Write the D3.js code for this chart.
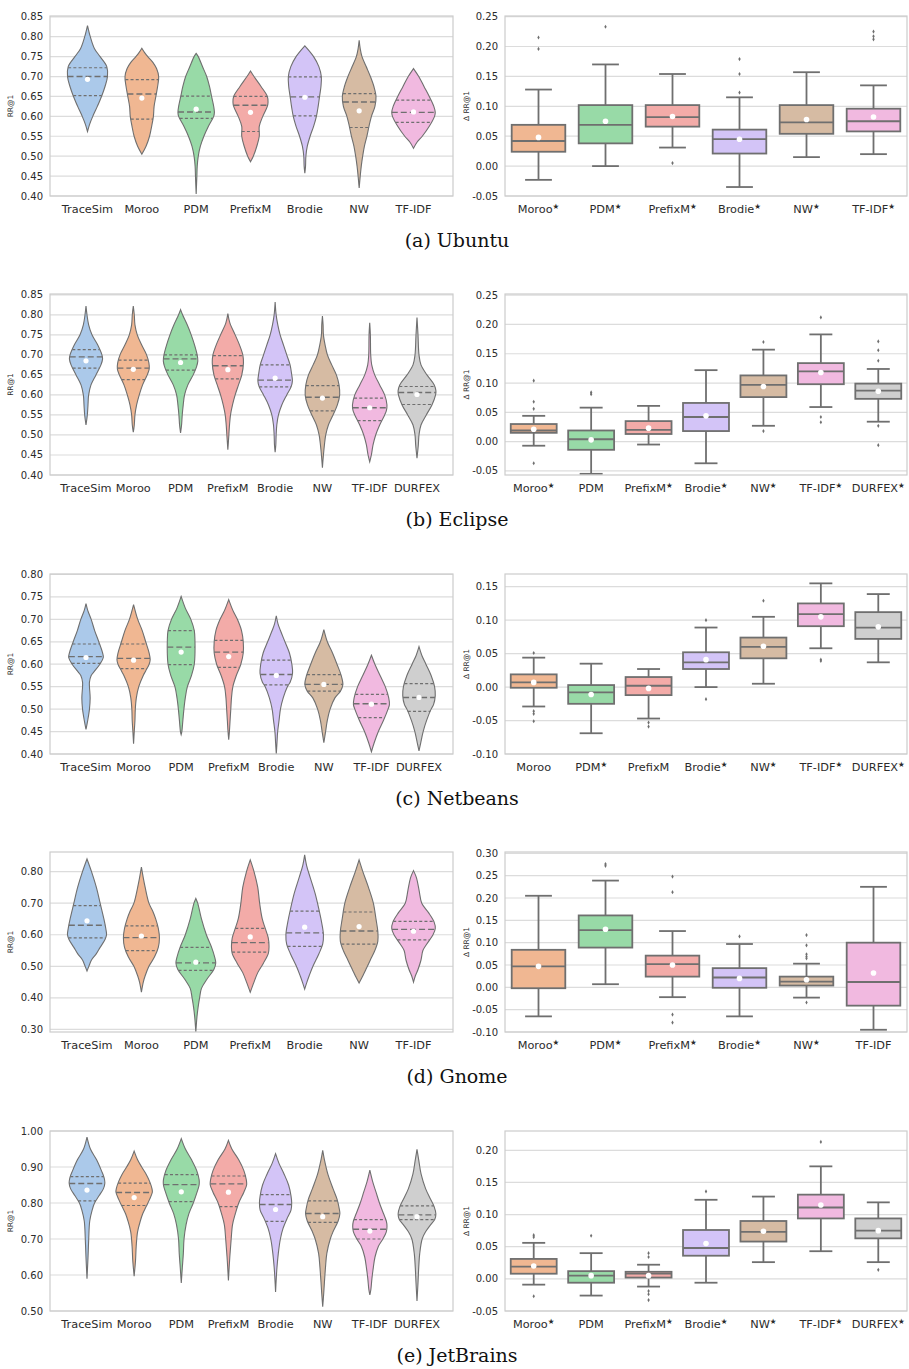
<!DOCTYPE html>
<html>
<head>
<meta charset="utf-8">
<script src="https://cdn.jsdelivr.net/npm/d3@7"></script>
<style>
  body { margin: 0; background: #fff; }
  svg { display: block; }
</style>
</head>
<body>
<div id="app"></div>
<script>
// ---- data ----
// violins: p = [value, relative density] from top tip to bottom tip, q = [q1, median, q3]
const ubuntuRR = [
  {m: "TraceSim", q: [0.652, 0.700, 0.722], mean: 0.693, p: [[0.828,0],[0.80,8],[0.77,20],[0.75,36],[0.725,55],[0.70,57],[0.675,50],[0.65,40],[0.625,28],[0.60,15],[0.58,6],[0.562,0]]},
  {m: "Moroo", q: [0.593, 0.656, 0.692], mean: 0.646, p: [[0.771,0],[0.76,8],[0.75,17],[0.735,32],[0.72,42],[0.70,48],[0.675,45],[0.65,40],[0.625,35],[0.60,33],[0.575,28],[0.55,22],[0.525,12],[0.505,0]]},
  {m: "PDM", q: [0.595, 0.611, 0.651], mean: 0.618, p: [[0.758,0],[0.75,6],[0.725,18],[0.70,30],[0.675,38],[0.65,44],[0.625,50],[0.61,52],[0.60,50],[0.575,35],[0.55,22],[0.525,12],[0.50,6],[0.475,3],[0.45,2],[0.405,0]]},
  {m: "PrefixM", q: [0.562, 0.628, 0.650], mean: 0.610, p: [[0.714,0],[0.70,10],[0.675,30],[0.65,48],[0.635,50],[0.625,48],[0.60,35],[0.575,25],[0.55,25],[0.525,18],[0.50,8],[0.486,0]]},
  {m: "Brodie", q: [0.601, 0.649, 0.699], mean: 0.648, p: [[0.777,0],[0.75,25],[0.725,40],[0.70,47],[0.675,46],[0.65,42],[0.625,38],[0.60,33],[0.575,25],[0.55,15],[0.525,7],[0.50,3],[0.475,2],[0.457,0]]},
  {m: "NW", q: [0.572, 0.636, 0.657], mean: 0.614, p: [[0.791,0],[0.77,3],[0.75,8],[0.725,20],[0.70,32],[0.675,42],[0.65,48],[0.625,45],[0.60,35],[0.575,28],[0.55,22],[0.525,15],[0.50,10],[0.475,6],[0.45,3],[0.42,0]]},
  {m: "TF-IDF", q: [0.585, 0.610, 0.641], mean: 0.611, p: [[0.72,0],[0.70,15],[0.675,30],[0.65,45],[0.625,58],[0.61,62],[0.60,60],[0.575,45],[0.55,25],[0.535,10],[0.52,0]]}
];
const eclipseRR = [
  {m: "TraceSim", q: [0.667, 0.695, 0.713], mean: 0.685, p: [[0.822,0],[0.80,3],[0.775,8],[0.75,18],[0.725,35],[0.70,48],[0.69,50],[0.675,45],[0.65,30],[0.625,15],[0.60,8],[0.575,6],[0.55,4],[0.525,0]]},
  {m: "Moroo", q: [0.638, 0.667, 0.687], mean: 0.664, p: [[0.822,0],[0.80,3],[0.775,5],[0.75,12],[0.725,25],[0.70,40],[0.68,47],[0.665,48],[0.65,42],[0.625,28],[0.60,18],[0.575,10],[0.55,5],[0.525,3],[0.507,0]]},
  {m: "PDM", q: [0.662, 0.690, 0.700], mean: 0.681, p: [[0.813,0],[0.80,6],[0.775,20],[0.75,32],[0.725,42],[0.70,50],[0.685,52],[0.67,48],[0.65,38],[0.625,22],[0.60,12],[0.575,8],[0.55,5],[0.525,3],[0.505,0]]},
  {m: "PrefixM", q: [0.640, 0.673, 0.698], mean: 0.663, p: [[0.803,0],[0.78,6],[0.75,22],[0.725,35],[0.70,45],[0.68,47],[0.65,42],[0.625,32],[0.60,22],[0.575,14],[0.55,8],[0.525,5],[0.50,3],[0.463,0]]},
  {m: "Brodie", q: [0.620, 0.637, 0.675], mean: 0.642, p: [[0.832,0],[0.80,3],[0.775,8],[0.75,15],[0.725,25],[0.70,35],[0.675,45],[0.65,50],[0.635,52],[0.62,48],[0.60,35],[0.575,20],[0.55,10],[0.525,5],[0.50,3],[0.475,2],[0.457,0]]},
  {m: "NW", q: [0.560, 0.594, 0.623], mean: 0.592, p: [[0.797,0],[0.775,2],[0.75,3],[0.725,8],[0.70,15],[0.675,28],[0.65,42],[0.625,50],[0.60,52],[0.575,45],[0.55,32],[0.525,18],[0.50,10],[0.475,6],[0.45,3],[0.418,0]]},
  {m: "TF-IDF", q: [0.536, 0.568, 0.592], mean: 0.568, p: [[0.780,0],[0.75,2],[0.70,3],[0.675,6],[0.65,15],[0.625,30],[0.60,45],[0.575,52],[0.56,50],[0.55,45],[0.525,30],[0.50,18],[0.475,10],[0.45,5],[0.433,0]]},
  {m: "DURFEX", q: [0.576, 0.606, 0.621], mean: 0.601, p: [[0.793,0],[0.75,3],[0.70,6],[0.675,12],[0.65,30],[0.625,52],[0.61,57],[0.60,56],[0.575,45],[0.55,28],[0.525,12],[0.50,6],[0.475,4],[0.442,0]]}
];
const netbeansRR = [
  {m: "TraceSim", q: [0.602, 0.617, 0.645], mean: 0.615, p: [[0.735,0],[0.72,5],[0.70,15],[0.675,25],[0.65,37],[0.625,48],[0.615,50],[0.60,40],[0.585,25],[0.575,15],[0.56,10],[0.55,10],[0.525,12],[0.50,10],[0.475,5],[0.455,0]]},
  {m: "Moroo", q: [0.590, 0.613, 0.645], mean: 0.609, p: [[0.733,0],[0.70,12],[0.675,25],[0.65,35],[0.625,45],[0.61,48],[0.60,45],[0.585,35],[0.575,28],[0.55,15],[0.525,8],[0.50,5],[0.475,4],[0.45,2],[0.423,0]]},
  {m: "PDM", q: [0.599, 0.638, 0.675], mean: 0.627, p: [[0.751,0],[0.725,12],[0.70,28],[0.675,38],[0.65,40],[0.625,40],[0.60,38],[0.575,30],[0.55,18],[0.525,12],[0.50,8],[0.475,5],[0.45,2],[0.443,0]]},
  {m: "PrefixM", q: [0.593, 0.627, 0.653], mean: 0.617, p: [[0.744,0],[0.72,12],[0.70,25],[0.675,37],[0.65,42],[0.625,42],[0.60,35],[0.575,22],[0.55,12],[0.525,8],[0.50,6],[0.475,4],[0.45,2],[0.432,0]]},
  {m: "Brodie", q: [0.554, 0.577, 0.609], mean: 0.575, p: [[0.708,0],[0.69,5],[0.675,12],[0.65,25],[0.625,38],[0.60,45],[0.58,47],[0.56,40],[0.55,32],[0.525,20],[0.50,12],[0.475,8],[0.45,4],[0.425,2],[0.40,0]]},
  {m: "NW", q: [0.540, 0.555, 0.577], mean: 0.555, p: [[0.677,0],[0.65,10],[0.625,25],[0.60,38],[0.575,50],[0.555,55],[0.54,48],[0.525,32],[0.50,18],[0.475,10],[0.45,5],[0.425,0]]},
  {m: "TF-IDF", q: [0.481, 0.512, 0.533], mean: 0.511, p: [[0.620,0],[0.60,10],[0.575,25],[0.55,40],[0.525,50],[0.51,52],[0.50,48],[0.475,35],[0.45,20],[0.425,8],[0.405,0]]},
  {m: "DURFEX", q: [0.495, 0.526, 0.557], mean: 0.526, p: [[0.639,0],[0.62,8],[0.60,20],[0.575,35],[0.55,45],[0.53,47],[0.51,42],[0.50,35],[0.475,22],[0.45,12],[0.425,5],[0.407,0]]}
];
const gnomeRR = [
  {m: "TraceSim", q: [0.590, 0.630, 0.692], mean: 0.644, p: [[0.840,0],[0.80,12],[0.75,25],[0.70,35],[0.65,45],[0.62,50],[0.60,52],[0.585,48],[0.56,35],[0.54,25],[0.52,12],[0.50,5],[0.485,0]]},
  {m: "Moroo", q: [0.550, 0.591, 0.628], mean: 0.596, p: [[0.814,0],[0.78,5],[0.75,10],[0.70,20],[0.675,30],[0.65,38],[0.62,45],[0.59,48],[0.56,45],[0.53,35],[0.50,20],[0.47,10],[0.45,5],[0.418,0]]},
  {m: "PDM", q: [0.487, 0.511, 0.560], mean: 0.513, p: [[0.715,0],[0.70,5],[0.65,15],[0.60,28],[0.56,42],[0.53,50],[0.51,53],[0.49,48],[0.46,30],[0.43,15],[0.40,10],[0.37,6],[0.34,3],[0.292,0]]},
  {m: "PrefixM", q: [0.545, 0.575, 0.620], mean: 0.593, p: [[0.837,0],[0.80,10],[0.75,20],[0.70,25],[0.65,32],[0.62,40],[0.59,48],[0.56,50],[0.54,48],[0.51,35],[0.48,20],[0.45,10],[0.418,0]]},
  {m: "Brodie", q: [0.563, 0.606, 0.675], mean: 0.624, p: [[0.853,0],[0.82,5],[0.78,15],[0.73,28],[0.68,38],[0.64,45],[0.60,50],[0.57,48],[0.54,38],[0.50,22],[0.47,12],[0.45,6],[0.428,0]]},
  {m: "NW", q: [0.570, 0.612, 0.672], mean: 0.626, p: [[0.837,0],[0.80,10],[0.75,25],[0.70,38],[0.65,45],[0.61,50],[0.58,50],[0.55,42],[0.52,30],[0.49,18],[0.465,8],[0.447,0]]},
  {m: "TF-IDF", q: [0.584, 0.617, 0.642], mean: 0.611, p: [[0.803,0],[0.78,8],[0.74,15],[0.70,22],[0.67,40],[0.64,55],[0.62,58],[0.60,52],[0.57,35],[0.55,25],[0.52,20],[0.49,12],[0.47,5],[0.45,0]]}
];
const jetbrainsRR = [
  {m: "TraceSim", q: [0.806, 0.854, 0.873], mean: 0.836, p: [[0.983,0],[0.95,10],[0.92,28],[0.89,42],[0.87,50],[0.855,52],[0.84,48],[0.82,35],[0.80,22],[0.78,15],[0.75,8],[0.70,5],[0.65,3],[0.59,0]]},
  {m: "Moroo", q: [0.793, 0.829, 0.855], mean: 0.815, p: [[0.944,0],[0.92,10],[0.90,22],[0.88,35],[0.86,45],[0.84,52],[0.83,53],[0.81,45],[0.79,35],[0.77,25],[0.75,18],[0.72,10],[0.68,6],[0.64,4],[0.597,0]]},
  {m: "PDM", q: [0.804, 0.851, 0.879], mean: 0.831, p: [[0.979,0],[0.95,12],[0.92,30],[0.89,45],[0.865,52],[0.85,52],[0.83,46],[0.80,35],[0.77,22],[0.74,14],[0.70,8],[0.66,6],[0.62,3],[0.578,0]]},
  {m: "PrefixM", q: [0.790, 0.853, 0.875], mean: 0.830, p: [[0.974,0],[0.95,10],[0.92,30],[0.89,45],[0.865,52],[0.85,53],[0.83,45],[0.80,30],[0.77,20],[0.74,12],[0.70,8],[0.65,4],[0.585,0]]},
  {m: "Brodie", q: [0.749, 0.796, 0.823], mean: 0.782, p: [[0.937,0],[0.91,10],[0.88,25],[0.85,38],[0.82,45],[0.80,47],[0.78,45],[0.76,35],[0.73,22],[0.70,14],[0.66,8],[0.62,4],[0.59,2],[0.553,0]]},
  {m: "NW", q: [0.746, 0.771, 0.806], mean: 0.762, p: [[0.946,0],[0.92,5],[0.88,15],[0.84,30],[0.81,42],[0.785,48],[0.77,50],[0.75,45],[0.72,30],[0.70,22],[0.66,12],[0.62,8],[0.58,5],[0.55,3],[0.512,0]]},
  {m: "TF-IDF", q: [0.700, 0.727, 0.754], mean: 0.722, p: [[0.891,0],[0.86,8],[0.83,18],[0.80,28],[0.77,40],[0.75,48],[0.735,50],[0.72,48],[0.70,38],[0.68,25],[0.65,15],[0.62,10],[0.59,6],[0.56,3],[0.545,0]]},
  {m: "DURFEX", q: [0.754, 0.767, 0.792], mean: 0.762, p: [[0.949,0],[0.92,5],[0.88,12],[0.84,25],[0.81,40],[0.79,50],[0.77,55],[0.755,52],[0.74,40],[0.72,25],[0.70,15],[0.66,8],[0.62,5],[0.58,3],[0.528,0]]}
];

// boxes: w = [low whisker, q1, median, q3, high whisker], sig = starred label
const ubuntuDelta = [
  {m: "Moroo", sig: true, w: [-0.023, 0.024, 0.042, 0.069, 0.128], mean: 0.048, out: [0.215, 0.196]},
  {m: "PDM", sig: true, w: [0.000, 0.038, 0.069, 0.102, 0.170], mean: 0.075, out: [0.233]},
  {m: "PrefixM", sig: true, w: [0.031, 0.066, 0.082, 0.102, 0.154], mean: 0.083, out: [0.005]},
  {m: "Brodie", sig: true, w: [-0.035, 0.021, 0.045, 0.061, 0.115], mean: 0.045, out: [0.179, 0.154, 0.123]},
  {m: "NW", sig: true, w: [0.015, 0.054, 0.073, 0.102, 0.157], mean: 0.078, out: []},
  {m: "TF-IDF", sig: true, w: [0.020, 0.058, 0.075, 0.096, 0.135], mean: 0.082, out: [0.225, 0.217, 0.212]}
];
const eclipseDelta = [
  {m: "Moroo", sig: true, w: [-0.007, 0.015, 0.019, 0.030, 0.044], mean: 0.021, out: [0.104, 0.068, 0.056, -0.037]},
  {m: "PDM", sig: false, w: [-0.055, -0.014, 0.004, 0.019, 0.058], mean: 0.003, out: [0.084, 0.081]},
  {m: "PrefixM", sig: true, w: [-0.005, 0.013, 0.020, 0.035, 0.061], mean: 0.023, out: []},
  {m: "Brodie", sig: true, w: [-0.037, 0.018, 0.042, 0.066, 0.122], mean: 0.044, out: []},
  {m: "NW", sig: true, w: [0.027, 0.076, 0.097, 0.113, 0.157], mean: 0.094, out: [0.170, 0.018]},
  {m: "TF-IDF", sig: true, w: [0.059, 0.098, 0.120, 0.134, 0.183], mean: 0.118, out: [0.212, 0.042, 0.033]},
  {m: "DURFEX", sig: true, w: [0.034, 0.073, 0.087, 0.099, 0.124], mean: 0.086, out: [0.171, 0.156, 0.138, 0.027, -0.006]}
];
const netbeansDelta = [
  {m: "Moroo", sig: false, w: [-0.029, -0.001, 0.007, 0.019, 0.044], mean: 0.007, out: [0.051, -0.036, -0.040, -0.051]},
  {m: "PDM", sig: true, w: [-0.069, -0.025, -0.008, 0.003, 0.035], mean: -0.011, out: []},
  {m: "PrefixM", sig: false, w: [-0.047, -0.012, 0.002, 0.015, 0.027], mean: -0.002, out: [-0.053, -0.059]},
  {m: "Brodie", sig: true, w: [0.000, 0.027, 0.037, 0.052, 0.089], mean: 0.041, out: [0.100, -0.018]},
  {m: "NW", sig: true, w: [0.005, 0.043, 0.060, 0.074, 0.105], mean: 0.061, out: [0.129]},
  {m: "TF-IDF", sig: true, w: [0.058, 0.091, 0.109, 0.125, 0.155], mean: 0.105, out: [0.041, 0.039]},
  {m: "DURFEX", sig: true, w: [0.037, 0.072, 0.089, 0.112, 0.139], mean: 0.090, out: []}
];
const gnomeDelta = [
  {m: "Moroo", sig: true, w: [-0.065, -0.002, 0.047, 0.084, 0.205], mean: 0.047, out: []},
  {m: "PDM", sig: true, w: [0.007, 0.089, 0.128, 0.161, 0.239], mean: 0.130, out: [0.276, 0.272]},
  {m: "PrefixM", sig: true, w: [-0.022, 0.024, 0.052, 0.071, 0.126], mean: 0.050, out: [0.248, 0.213, -0.061, -0.079]},
  {m: "Brodie", sig: true, w: [-0.065, -0.001, 0.022, 0.043, 0.097], mean: 0.020, out: [0.114]},
  {m: "NW", sig: true, w: [-0.023, 0.004, 0.013, 0.024, 0.053], mean: 0.017, out: [0.117, 0.094, 0.074, 0.069, 0.065, -0.034]},
  {m: "TF-IDF", sig: false, w: [-0.095, -0.041, 0.012, 0.100, 0.225], mean: 0.032, out: []}
];
const jetbrainsDelta = [
  {m: "Moroo", sig: true, w: [-0.009, 0.008, 0.019, 0.031, 0.056], mean: 0.020, out: [0.068, 0.065, -0.027]},
  {m: "PDM", sig: false, w: [-0.026, -0.006, 0.005, 0.012, 0.040], mean: 0.005, out: [0.067]},
  {m: "PrefixM", sig: true, w: [-0.012, 0.002, 0.008, 0.011, 0.022], mean: 0.005, out: [0.040, 0.034, -0.019, -0.024, -0.033]},
  {m: "Brodie", sig: true, w: [-0.006, 0.036, 0.048, 0.076, 0.123], mean: 0.055, out: [0.136]},
  {m: "NW", sig: true, w: [0.026, 0.058, 0.073, 0.090, 0.128], mean: 0.074, out: []},
  {m: "TF-IDF", sig: true, w: [0.043, 0.094, 0.111, 0.131, 0.175], mean: 0.115, out: [0.213]},
  {m: "DURFEX", sig: true, w: [0.026, 0.063, 0.075, 0.094, 0.119], mean: 0.075, out: [0.014]}
];

// tick labels
const ticksRR1 = [0.40, 0.45, 0.50, 0.55, 0.60, 0.65, 0.70, 0.75, 0.80, 0.85];
const ticksRR2 = [0.40, 0.45, 0.50, 0.55, 0.60, 0.65, 0.70, 0.75, 0.80];
const ticksRR3 = [0.30, 0.40, 0.50, 0.60, 0.70, 0.80];
const ticksRR4 = [0.50, 0.60, 0.70, 0.80, 0.90, 1.00];
const ticksDeltaA = [-0.05, 0.00, 0.05, 0.10, 0.15, 0.20, 0.25];
const ticksDeltaC = [-0.10, -0.05, 0.00, 0.05, 0.10, 0.15];
const ticksDeltaD = [-0.10, -0.05, 0.00, 0.05, 0.10, 0.15, 0.20, 0.25, 0.30];
const ticksDeltaE = [-0.05, 0.00, 0.05, 0.10, 0.15, 0.20];

const captions = ["(a) Ubuntu", "(b) Eclipse", "(c) Netbeans", "(d) Gnome", "(e) JetBrains"];

const colors = {
  "TraceSim": "#abc9ea", "Moroo": "#f0b792", "PDM": "#98daa7", "PrefixM": "#f3aba8",
  "Brodie": "#d3c4f7", "NW": "#d6bba3", "TF-IDF": "#f1b9e0", "DURFEX": "#cfcfcf"
};

// ---- layout ----
const W = 909, H = 1369;
const leftX = [50, 453], rightX = [505, 907];
const edge = "#6f6f6f", gridC = "#dcdcdc", frameC = "#cccccc", textC = "#2b2b2b";
const fmt = d3.formatLocale({decimal: ".", thousands: ",", grouping: [3], currency: ["", ""], minus: "-"}).format(".2f");

const rows = [
  {top: 16, bottom: 196, vio: ubuntuRR, box: ubuntuDelta, lDom: [0.40, 0.852], rDom: [-0.05, 0.251], lTicks: ticksRR1, rTicks: ticksDeltaA, lRange: [87.5, 413.5]},
  {top: 294, bottom: 475, vio: eclipseRR, box: eclipseDelta, lDom: [0.40, 0.852], rDom: [-0.057, 0.252], lTicks: ticksRR1, rTicks: ticksDeltaA, lRange: [86, 417]},
  {top: 574, bottom: 754, vio: netbeansRR, box: netbeansDelta, lDom: [0.40, 0.801], rDom: [-0.10, 0.169], lTicks: ticksRR2, rTicks: ticksDeltaC, lRange: [86, 419]},
  {top: 852, bottom: 1032, vio: gnomeRR, box: gnomeDelta, lDom: [0.292, 0.862], rDom: [-0.10, 0.303], lTicks: ticksRR3, rTicks: ticksDeltaD, lRange: [87, 413.5]},
  {top: 1131, bottom: 1311, vio: jetbrainsRR, box: jetbrainsDelta, lDom: [0.50, 1.00], rDom: [-0.05, 0.230], lTicks: ticksRR4, rTicks: ticksDeltaE, lRange: [87, 417]}
];

const svg = d3.select("#app").append("svg")
  .attr("width", W).attr("height", H)
  .style("font-family", "'DejaVu Sans', sans-serif");

function panel(g, xr, row, y, ticks, label, labelX) {
  // grid
  g.append("g").selectAll("line").data(ticks).join("line")
    .attr("x1", xr[0]).attr("x2", xr[1])
    .attr("y1", d => y(d)).attr("y2", d => y(d))
    .attr("stroke", gridC).attr("stroke-width", 1.2);
  // tick labels
  g.append("g").selectAll("text").data(ticks).join("text")
    .attr("x", xr[0] - 7).attr("y", d => y(d)).attr("dy", "0.35em")
    .attr("text-anchor", "end").attr("font-size", 10).attr("fill", textC)
    .text(d => fmt(d));
  // axis label
  g.append("text")
    .attr("transform", "translate(" + labelX + "," + ((row.top + row.bottom) / 2) + ") rotate(-90)")
    .attr("text-anchor", "middle").attr("font-size", 7.5).attr("fill", textC)
    .text(label);
}

function frame(g, xr, row) {
  g.append("rect")
    .attr("x", xr[0]).attr("y", row.top)
    .attr("width", xr[1] - xr[0]).attr("height", row.bottom - row.top)
    .attr("fill", "none").attr("stroke", frameC).attr("stroke-width", 1.2);
}

function widthAt(p, v) {
  for (let i = 0; i < p.length - 1; i++) {
    const a = p[i], b = p[i + 1];
    if (v <= a[0] && v >= b[0]) {
      const t = (a[0] - v) / (a[0] - b[0]);
      return a[1] + t * (b[1] - a[1]);
    }
  }
  return 0;
}

function drawViolins(g, row) {
  const data = row.vio;
  const x = d3.scalePoint().domain(data.map(d => d.m)).range(row.lRange);
  const y = d3.scaleLinear().domain(row.lDom).range([row.bottom, row.top]);
  panel(g, leftX, row, y, row.lTicks, "RR@1", 13);

  const maxD = d3.max(data, d => d3.max(d.p, p => p[1]));
  const hw = 0.4 * x.step();
  const wScale = d3.scaleLinear().domain([0, maxD]).range([0, hw]);

  data.forEach(d => {
    const cx = x(d.m);
    const area = d3.area()
      .y(p => y(p[0]))
      .x0(p => cx - wScale(p[1]))
      .x1(p => cx + wScale(p[1]))
      .curve(d3.curveCatmullRom.alpha(0.5));
    g.append("path").datum(d.p)
      .attr("d", area)
      .attr("fill", colors[d.m]).attr("stroke", edge).attr("stroke-width", 1.1);

    d.q.forEach((v, i) => {
      const hwv = wScale(widthAt(d.p, v));
      g.append("line")
        .attr("x1", cx - hwv).attr("x2", cx + hwv)
        .attr("y1", y(v)).attr("y2", y(v))
        .attr("stroke", edge)
        .attr("stroke-width", i === 1 ? 1.4 : 1.2)
        .attr("stroke-dasharray", i === 1 ? "6,3" : "3,2.2");
    });
    g.append("circle")
      .attr("cx", cx).attr("cy", y(d.mean)).attr("r", 2.6)
      .attr("fill", "#fff");
  });

  frame(g, leftX, row);

  g.append("g").selectAll("text").data(data).join("text")
    .attr("x", d => x(d.m)).attr("y", row.bottom + 16.5)
    .attr("text-anchor", "middle").attr("font-size", 11.3).attr("fill", textC)
    .text(d => d.m);
}

function drawBoxes(g, row) {
  const data = row.box;
  const x = d3.scaleBand().domain(data.map(d => d.m)).range(rightX)
    .paddingInner(0.2).paddingOuter(0.1);
  const y = d3.scaleLinear().domain(row.rDom).range([row.bottom, row.top]);
  panel(g, rightX, row, y, row.rTicks, "\u0394 RR@1", 469);

  const bw = x.bandwidth();
  const diamond = d3.symbol().type(d3.symbolDiamond).size(5);

  data.forEach(d => {
    const x0 = x(d.m), cx = x0 + bw / 2;
    const [lo, q1, med, q3, hi] = d.w;
    const bg = g.append("g").attr("stroke", edge).attr("stroke-width", 1.8);
    bg.append("line").attr("x1", cx).attr("x2", cx).attr("y1", y(q3)).attr("y2", y(hi));
    bg.append("line").attr("x1", cx).attr("x2", cx).attr("y1", y(q1)).attr("y2", y(lo));
    bg.append("line").attr("x1", cx - bw / 4).attr("x2", cx + bw / 4).attr("y1", y(hi)).attr("y2", y(hi));
    bg.append("line").attr("x1", cx - bw / 4).attr("x2", cx + bw / 4).attr("y1", y(lo)).attr("y2", y(lo));
    bg.append("rect")
      .attr("x", x0).attr("y", y(q3))
      .attr("width", bw).attr("height", y(q1) - y(q3))
      .attr("fill", colors[d.m]);
    bg.append("line").attr("x1", x0).attr("x2", x0 + bw).attr("y1", y(med)).attr("y2", y(med));

    g.append("g").selectAll("path").data(d.out).join("path")
      .attr("d", diamond)
      .attr("transform", v => "translate(" + cx + "," + y(v) + ")")
      .attr("fill", edge);

    g.append("circle")
      .attr("cx", cx).attr("cy", y(d.mean)).attr("r", 2.8)
      .attr("fill", "#fff");
  });

  frame(g, rightX, row);

  const lab = g.append("g").selectAll("text").data(data).join("text")
    .attr("x", d => x(d.m) + bw / 2).attr("y", row.bottom + 16.5)
    .attr("text-anchor", "middle").attr("font-size", 11.3).attr("fill", textC)
    .text(d => d.m);
  lab.filter(d => d.sig).append("tspan")
    .attr("font-size", 7.5).attr("dy", -3.5)
    .text("\u2605");
}

rows.forEach((row, i) => {
  const g = svg.append("g");
  drawViolins(g, row);
  drawBoxes(g, row);
  g.append("text")
    .attr("x", 457).attr("y", row.bottom + 51)
    .attr("text-anchor", "middle")
    .attr("font-family", "'DejaVu Serif', serif")
    .attr("font-size", 19).attr("fill", "#111")
    .text(captions[i]);
});
</script>
</body>
</html>
